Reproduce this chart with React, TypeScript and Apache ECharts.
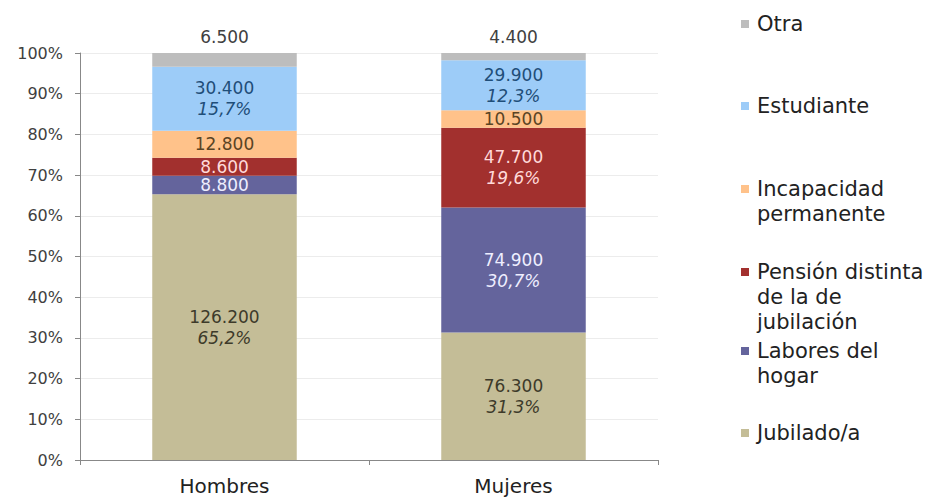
import React, { useEffect, useRef } from "react";
import * as echarts from "echarts";

const categories = ["Hombres", "Mujeres"];
const seriesNames = [
  "Jubilado/a",
  "Labores del hogar",
  "Pensión distinta de la de jubilación",
  "Incapacidad permanente",
  "Estudiante",
  "Otra",
];
const jubilado = [126200, 76300];
const labores = [8800, 74900];
const pension = [8600, 47700];
const incapacidad = [12800, 10500];
const estudiante = [30400, 29900];
const otra = [6500, 4400];

const jubiladoPct = ["65,2%", "31,3%"];
const laboresPct = [null, "30,7%"];
const pensionPct = [null, "19,6%"];
const incapacidadPct = [null, null];
const estudiantePct = ["15,7%", "12,3%"];
const otraPct = [null, null];

const yTicks = [0, 10, 20, 30, 40, 50, 60, 70, 80, 90, 100];

const legendLabels = [
  "Otra",
  "Estudiante",
  "Incapacidad\npermanente",
  "Pensión distinta\nde la de\njubilación",
  "Labores del\nhogar",
  "Jubilado/a",
];

const seriesValues = [jubilado, labores, pension, incapacidad, estudiante, otra];
const seriesPcts = [jubiladoPct, laboresPct, pensionPct, incapacidadPct, estudiantePct, otraPct];
const colors = ["#C4BD97", "#64649C", "#A2302E", "#FFC28A", "#9DCCF8", "#BDBDBD"];
const labelColors = ["#3d3a2a", "#eeeeff", "#ffdada", "#5a4424", "#1f4e79", "#404040"];

const legendOrder = [5, 4, 3, 2, 1, 0];
const legendTops = [24, 106, 189, 272, 351, 433];

const FONT = "DejaVu Sans, Liberation Sans, Arial, sans-serif";

function fmt(v: number): string {
  return String(v).replace(/\B(?=(\d{3})+(?!\d))/g, ".");
}

export default function App() {
  const ref = useRef<HTMLDivElement>(null);
  useEffect(() => {
    if (!ref.current) return;
    const chart = echarts.init(ref.current, undefined, { renderer: "svg" });
    const totals = categories.map((_, ci) =>
      seriesValues.reduce((s, arr) => s + arr[ci], 0)
    );
    const series = seriesNames.map((name, si) => ({
      name,
      type: "bar",
      stack: "total",
      barWidth: "50%",
      itemStyle: { color: colors[si] },
      data: seriesValues[si].map((v, ci) => (v / totals[ci]) * 100),
      label: {
        show: true,
        position: si === 5 ? "top" : "inside",
        distance: 6,
        color: labelColors[si],
        fontSize: 17,
        lineHeight: 21,
        fontFamily: FONT,
        formatter: (p: any) => {
          const d = seriesValues[si][p.dataIndex];
          const pc = seriesPcts[si][p.dataIndex];
          return pc ? `{v|${fmt(d)}}\n{p|${pc}}` : `{v|${fmt(d)}}`;
        },
        rich: {
          v: { color: labelColors[si], fontSize: 17, lineHeight: 21, fontFamily: FONT },
          p: { color: labelColors[si], fontSize: 17, lineHeight: 21, fontStyle: "italic", fontFamily: FONT },
        },
      },
    }));

    const graphic: any[] = [];
    legendOrder.forEach((si, k) => {
      const top = legendTops[k];
      graphic.push({
        type: "rect",
        shape: { x: 741, y: top - 4, width: 8, height: 8 },
        style: { fill: colors[si] },
      });
      graphic.push({
        type: "text",
        x: 757,
        y: top - 12.5,
        style: {
          text: legendLabels[k],
          fontSize: 21,
          lineHeight: 25,
          fontFamily: FONT,
          fill: "#222222",
          verticalAlign: "top",
          align: "left",
        },
      });
    });

    chart.setOption({
      animation: false,
      backgroundColor: "#ffffff",
      grid: { left: 80, right: 275, top: 53, bottom: 38, containLabel: false },
      xAxis: {
        type: "category",
        data: categories,
        axisLine: { lineStyle: { color: "#888888" } },
        axisTick: { show: true, length: 5, lineStyle: { color: "#888888" } },
        axisLabel: {
          color: "#222222",
          fontSize: 20,
          margin: 16,
          fontFamily: FONT,
        },
      },
      yAxis: {
        type: "value",
        min: 0,
        max: 100,
        interval: 10,
        axisLine: { show: true, lineStyle: { color: "#888888" } },
        axisTick: { show: true, length: 5, lineStyle: { color: "#888888" } },
        splitLine: { lineStyle: { color: "#ececec" } },
        axisLabel: {
          color: "#404040",
          fontSize: 16,
          margin: 17,
          fontFamily: FONT,
          formatter: (v: number) => (yTicks.includes(v) ? `${v}%` : ""),
        },
      },
      series,
      graphic,
    });
    return () => chart.dispose();
  }, []);
  return <div ref={ref} style={{ width: 933, height: 498, position: "absolute", left: 0, top: 0 }} />;
}
